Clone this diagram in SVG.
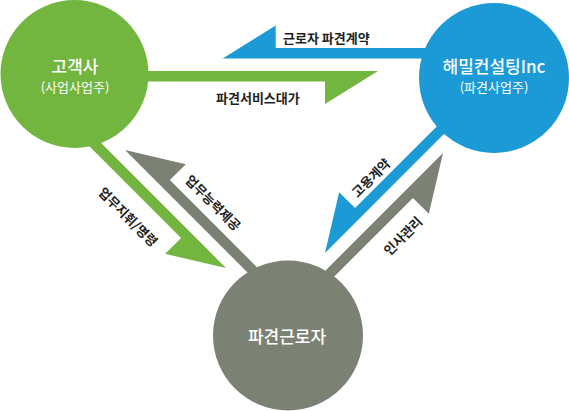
<svg xmlns="http://www.w3.org/2000/svg" width="569" height="411" viewBox="0 0 569 411">
<style>
.t{font-family:"Noto Sans CJK KR","Noto Sans",sans-serif;}
.title{font-size:17px;fill:#fff;text-anchor:middle;font-weight:500;}
.sub{font-size:13px;fill:#fff;text-anchor:middle;}
.lbl{font-size:13px;fill:#1e1e1e;font-weight:bold;}
.green{fill:#72b53f;}
.blue{fill:#1b9ad6;}
.gray{fill:#7b8273;}
</style>
<defs>
<polygon id="arr" points="0,0 200,0 200,-10.5 53,-10.5 53,-33"/>
<polygon id="arrLong" points="0,0 300,0 300,-10.5 53,-10.5 53,-33"/>
</defs>
<g id="connectors">
<use href="#arrLong" class="blue" transform="translate(222.7,58.5)"/>
<use href="#arrLong" class="green" transform="translate(378,71) rotate(180)"/>
<use href="#arr" class="gray" transform="translate(125,150) rotate(45)"/>
<use href="#arr" class="green" transform="translate(226,268) rotate(225)"/>
<use href="#arr" class="blue" transform="translate(325,253) rotate(-45)"/>
<use href="#arr" class="gray" transform="translate(443,153) rotate(135)"/>
<text class="t lbl" x="283" y="43">근로자 파견계약</text>
<text class="t lbl" x="216" y="103">파견서비스대가</text>
<text class="t lbl" text-anchor="middle" dominant-baseline="central" transform="translate(128.5,216.5) rotate(45)">업무지휘/명령</text>
<text class="t lbl" text-anchor="middle" dominant-baseline="central" transform="translate(213.5,202.5) rotate(45)">업무능력제공</text>
<text class="t lbl" text-anchor="middle" dominant-baseline="central" transform="translate(370.5,177.5) rotate(-45)">고용계약</text>
<text class="t lbl" text-anchor="middle" dominant-baseline="central" transform="translate(402.5,235.5) rotate(-45)">인사관리</text>
</g>
<g id="client">
<circle class="green" cx="74.5" cy="74" r="74"/>
<text class="t title" x="75" y="73">고객사</text>
<text class="t sub" x="75" y="92">(사업사업주)</text>
</g>
<g id="haemil">
<circle class="blue" cx="494" cy="78" r="75"/>
<text class="t title" x="494" y="73">해밀컨설팅Inc</text>
<text class="t sub" x="494" y="92">(파견사업주)</text>
</g>
<g id="worker">
<circle class="gray" cx="288" cy="335.5" r="75"/>
<text class="t title" x="287" y="343">파견근로자</text>
</g>
</svg>
